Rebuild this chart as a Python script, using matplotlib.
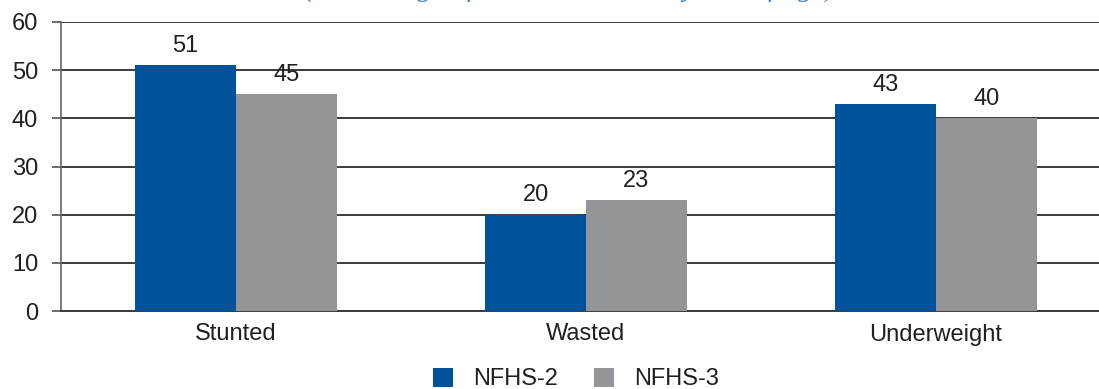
import matplotlib
matplotlib.use("Agg")
import matplotlib.pyplot as plt
import numpy as np

categories = ["Stunted", "Wasted", "Underweight"]
series_names = ["NFHS-2", "NFHS-3"]
nfhs2 = [51, 20, 43]
nfhs3 = [45, 23, 40]
yticks = [0, 10, 20, 30, 40, 50, 60]
subtitle = "(Percentage of children under 3 years of age)"

blue = "#00529b"
gray = "#939598"
txt = "#231f20"
FS = 17

plt.rcParams['font.family'] = ['Liberation Sans', 'DejaVu Sans']

W, H = 1099, 389
fig = plt.figure(figsize=(W / 100, H / 100), dpi=100)
left = 61 / W
bottom = (H - 311) / H
height = (311 - 22) / H
width = 1050 / W
ax = fig.add_axes([left, bottom, width, height])

x = np.arange(len(categories))
bw = 0.2875
b1 = ax.bar(x - bw / 2, nfhs2, bw, color=blue, label=series_names[0], zorder=3)
b2 = ax.bar(x + bw / 2, nfhs3, bw, color=gray, label=series_names[1], zorder=3)

for bars, vals in ((b1, nfhs2), (b2, nfhs3)):
    for r, v in zip(bars, vals):
        ax.annotate(f"{v}", (r.get_x() + r.get_width() / 2, v), xytext=(0, 9.5),
                    textcoords="offset points", ha="center", va="baseline",
                    fontsize=FS, color=txt)

ax.set_xlim(-0.5, 2.5)
ax.set_ylim(0, 60)
ax.set_yticks(yticks)
ax.set_yticklabels([str(t) for t in yticks], fontsize=FS, color=txt)
ax.set_xticks(x)
ax.set_xticklabels(categories, fontsize=FS, color=txt)
ax.tick_params(axis="x", length=0, pad=9)
ax.tick_params(axis="y", length=6.5, width=1.2, color="#555555", pad=10)

ax.yaxis.grid(True, color="#3a3a3a", linewidth=1.4, zorder=1)
ax.set_axisbelow(True)
for s in ["top", "right"]:
    ax.spines[s].set_visible(False)
ax.spines["left"].set_color("#666666")
ax.spines["left"].set_linewidth(1.2)
ax.spines["bottom"].set_color("#3a3a3a")
ax.spines["bottom"].set_linewidth(1.4)

fig.legend(handles=[b1, b2], labels=series_names, loc="center",
           bbox_to_anchor=(576 / W, (H - 379) / H), ncol=2, frameon=False,
           fontsize=FS, handlelength=0.85, handleheight=0.85, columnspacing=1.5,
           handletextpad=0.85, labelcolor=txt, borderpad=0, borderaxespad=0)

fig.text(570 / W, 1.0 + 3.5 / H, subtitle, ha="center", va="baseline",
         fontsize=21, style="italic", family="Liberation Serif", color="#4a86c8")

fig.savefig("out.png", dpi=100)
